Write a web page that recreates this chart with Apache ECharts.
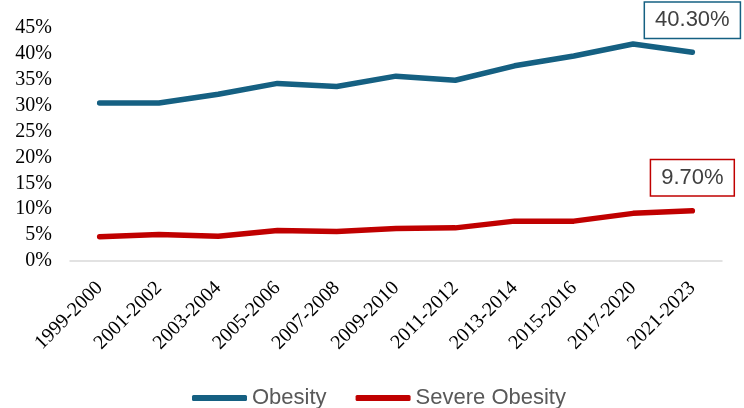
<!DOCTYPE html>
<html>
<head>
<meta charset="utf-8">
<script src="https://cdn.jsdelivr.net/npm/echarts@6/dist/echarts.min.js"></script>
<style>
  html, body { margin: 0; padding: 0; background: #fff; }
  #chart { width: 744px; height: 408px; }
</style>
</head>
<body>
<div id="chart"></div>
<script>
// survey periods
const periods = [
  '1999-2000', '2001-2002', '2003-2004', '2005-2006', '2007-2008', '2009-2010',
  '2011-2012', '2013-2014', '2015-2016', '2017-2020', '2021-2023'
];
// prevalence, %
const obesity = [30.5, 30.5, 32.2, 34.3, 33.7, 35.7, 34.9, 37.7, 39.6, 41.9, 40.3];
const severeObesity = [4.7, 5.1, 4.8, 5.9, 5.7, 6.3, 6.4, 7.7, 7.7, 9.2, 9.7];
const seriesNames = ['Obesity', 'Severe Obesity'];

const BLUE = '#156082';
const RED = '#c00000';

const chart = echarts.init(document.getElementById('chart'));

// callout box on the latest value
function lastCallout(values, color, offset) {
  const i = values.length - 1;
  return {
    symbol: 'rect',
    symbolSize: 0,
    silent: true,
    data: [{ coord: [i, values[i]], value: values[i] }],
    label: {
      show: true,
      formatter: (p) => p.value.toFixed(2) + '%',
      offset: offset,
      fontFamily: 'Liberation Sans',
      fontSize: 22,
      color: '#404040',
      backgroundColor: '#fff',
      borderColor: color,
      borderWidth: 1.5,
      padding: [7, 10, 6, 10]
    }
  };
}

chart.setOption({
  animation: false,
  grid: {
    left: 70,
    right: 22,
    top: 28,
    bottom: 147
  },
  legend: {
    data: seriesNames,
    left: 187,
    top: 382,
    icon: 'roundRect',
    itemWidth: 55,
    itemHeight: 6,
    itemGap: 29,
    textStyle: {
      fontFamily: 'Liberation Sans',
      fontSize: 22,
      color: '#595959'
    }
  },
  xAxis: {
    type: 'category',
    data: periods,
    axisLine: { lineStyle: { color: '#d9d9d9', width: 1.5 } },
    axisTick: { show: false },
    axisLabel: {
      rotate: 45,
      margin: 24,
      interval: 0,
      fontFamily: 'Liberation Serif',
      fontSize: 20,
      color: '#000'
    }
  },
  yAxis: {
    type: 'value',
    min: 0,
    max: 45,
    interval: 5,
    axisLine: { show: false },
    axisTick: { show: false },
    splitLine: { show: false },
    axisLabel: {
      formatter: '{value}%',
      margin: 18,
      fontFamily: 'Liberation Serif',
      fontSize: 20,
      color: '#000'
    }
  },
  series: [
    {
      name: seriesNames[0],
      type: 'line',
      data: obesity,
      symbol: 'none',
      lineStyle: { color: BLUE, width: 5.5, cap: 'round', join: 'round' },
      itemStyle: { color: BLUE },
      markPoint: lastCallout(obesity, BLUE, [0, -32])
    },
    {
      name: seriesNames[1],
      type: 'line',
      data: severeObesity,
      symbol: 'none',
      lineStyle: { color: RED, width: 5.5, cap: 'round', join: 'round' },
      itemStyle: { color: RED },
      markPoint: lastCallout(severeObesity, RED, [0, -33])
    }
  ]
});
</script>
</body>
</html>
